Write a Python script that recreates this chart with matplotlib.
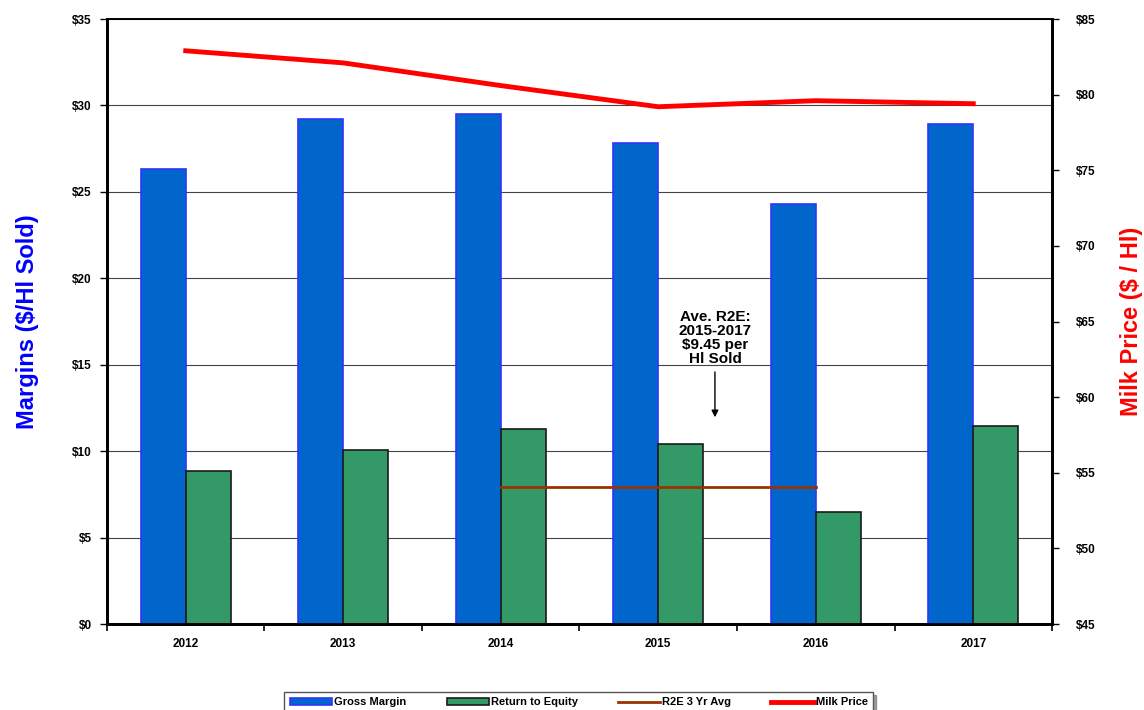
import matplotlib.pyplot as plt
import numpy as np

plt.rcParams['font.family'] = ['Liberation Sans', 'DejaVu Sans']
plt.rcParams['font.weight'] = 'bold'

years = ['2012', '2013', '2014', '2015', '2016', '2017']
gross_margin = [26.3, 29.2, 29.5, 27.8, 24.3, 28.9]
return_to_equity = [8.85, 10.05, 11.3, 10.4, 6.5, 11.45]
r2e_avg = [np.nan, np.nan, 7.9, 7.9, 7.9, np.nan]
milk_price = [82.9, 82.1, 80.6, 79.2, 79.6, 79.4]

x = np.arange(len(years))
w = 0.286

fig = plt.figure(figsize=(11.44, 7.10), dpi=100)
ax = fig.add_axes([0.0935, 0.1211, 0.8261, 0.8521])
ax2 = ax.twinx()

b1 = ax.bar(x - w / 2, gross_margin, w, color='#0066CC', edgecolor='#3333FF', linewidth=1.2,
            label='Gross Margin', zorder=3)
b2 = ax.bar(x + w / 2, return_to_equity, w, color='#339966', edgecolor='#1a1a1a', linewidth=1.2,
            label='Return to Equity', zorder=3)
l1, = ax.plot(x, r2e_avg, color='#993300', linewidth=2, label='R2E 3 Yr Avg', zorder=4)
l2, = ax2.plot(x, milk_price, color='#FF0000', linewidth=3.5, label='Milk Price', zorder=4)

ax.set_xlim(-0.5, len(years) - 0.5)
ax.set_ylim(0, 35)
ax.set_yticks(np.arange(0, 36, 5))
ax.set_yticklabels(['$%d' % v for v in range(0, 36, 5)])
ax2.set_ylim(45, 85)
ax2.set_yticks(np.arange(45, 86, 5))
ax2.set_yticklabels(['$%d' % v for v in range(45, 86, 5)])

ax.set_xticks(x)
ax.set_xticklabels(years)
ax.set_xticks(np.arange(-0.5, len(years), 1), minor=True)
ax.tick_params(axis='x', which='major', length=0, pad=10)
ax.tick_params(axis='x', which='minor', length=5, width=1.2, direction='out')

ax.grid(axis='y', color='#444444', linewidth=0.8, zorder=0)
ax.set_axisbelow(True)

for lab in ax.get_xticklabels() + ax.get_yticklabels() + ax2.get_yticklabels():
    lab.set_fontweight('bold')
    lab.set_fontsize(8.5)
ax.tick_params(axis='y', length=5, width=1, pad=6)
ax2.tick_params(axis='y', length=5, width=1, pad=12)

for a in (ax, ax2):
    a.spines['left'].set_linewidth(2)
    a.spines['right'].set_linewidth(2)
    a.spines['bottom'].set_linewidth(2)
    a.spines['top'].set_linewidth(1.2)

ax.set_ylabel('Margins ($/Hl Sold)', color='#0000FF', fontsize=17, fontweight='bold', labelpad=24)
ax2.set_ylabel('Milk Price ($ / Hl)', color='#FF0000', fontsize=17, fontweight='bold', labelpad=18)

ax.annotate('Ave. R2E:\n2015-2017\n$9.45 per\nHl Sold', xy=(3.36, 11.8), xytext=(3.36, 14.9),
            ha='center', va='bottom', fontsize=11, fontweight='bold', linespacing=1.0,
            arrowprops=dict(arrowstyle='-|>', color='black', lw=1, mutation_scale=10))

leg = fig.legend([b1, b2, l1, l2], ['Gross Margin', 'Return to Equity', 'R2E 3 Yr Avg', 'Milk Price'],
                 loc='lower center', bbox_to_anchor=(0.506, -0.012), ncol=4,
                 fontsize=8, frameon=True, fancybox=False, shadow=True, edgecolor='#555555',
                 handlelength=3.8, handleheight=0.6, handletextpad=0.2, columnspacing=3.6,
                 borderpad=0.5)
for t in leg.get_texts():
    t.set_fontweight('bold')

fig.savefig('out.png', dpi=100)
